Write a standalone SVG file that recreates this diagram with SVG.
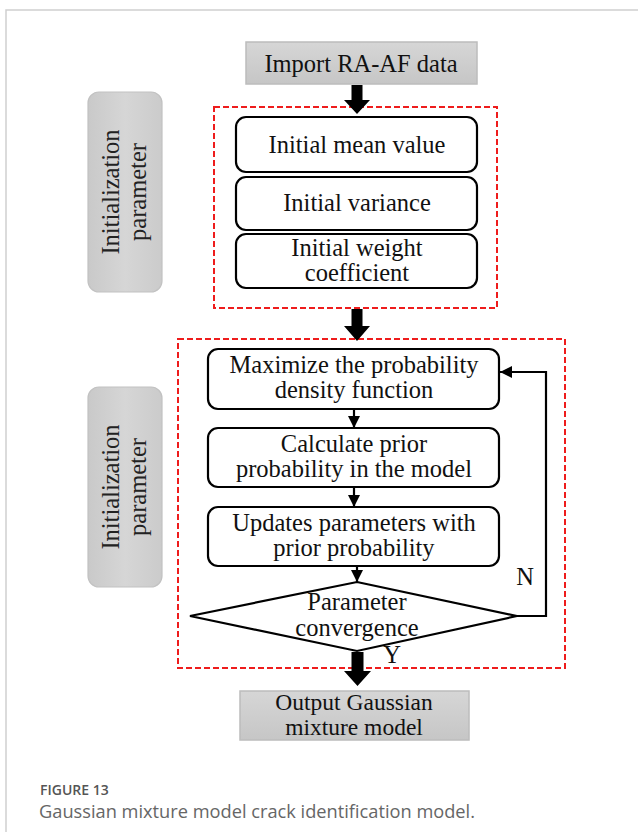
<svg xmlns="http://www.w3.org/2000/svg" width="638" height="832" viewBox="0 0 638 832">
<defs>
<linearGradient id="gbox" x1="0" y1="0" x2="0" y2="1">
<stop offset="0" stop-color="#d6d6d6"/>
<stop offset="1" stop-color="#c6c6c6"/>
</linearGradient>
<linearGradient id="glab" x1="0" y1="0" x2="1" y2="0">
<stop offset="0" stop-color="#c9c9c9"/>
<stop offset="0.5" stop-color="#d6d6d6"/>
<stop offset="1" stop-color="#cbcbcb"/>
</linearGradient>
<marker id="ah" markerUnits="userSpaceOnUse" markerWidth="12" markerHeight="12" refX="12" refY="6" orient="auto">
<path d="M0,0 L12,6 L0,12 z" fill="#000"/>
</marker>
</defs>
<style>
.t{font-family:"Liberation Serif","Times New Roman",serif;font-size:24.5px;fill:#111;text-anchor:middle}
.o{font-size:23.5px}
.lt{font-family:"Liberation Serif","Times New Roman",serif;font-size:24.5px;fill:#222;text-anchor:middle}
.box{fill:#fff;stroke:#000;stroke-width:2.2}
.gray{fill:url(#gbox);stroke:#bcbcbc;stroke-width:1.5}
.lab{fill:url(#glab);stroke:#c2c2c2;stroke-width:1.2}
.dash{fill:none;stroke:#ee1c1c;stroke-width:2;stroke-dasharray:6,3}
.ln{fill:none;stroke:#000;stroke-width:2.2}
.big{fill:#000}
.cap1{font-family:"Open Sans","Liberation Sans",sans-serif;font-size:14px;font-weight:600;fill:#555}
.cap2{font-family:"Open Sans","Liberation Sans",sans-serif;font-size:18px;font-weight:400;fill:#666}
</style>
<rect width="638" height="832" fill="#fff"/>
<path d="M6,832 L6,10 L638,10" fill="none" stroke="#cfcfcf" stroke-width="1.5"/>

<g id="frame1"><rect class="dash" x="214" y="107" width="283" height="201"/></g>
<g id="frame2"><rect class="dash" x="178" y="339" width="387" height="329"/></g>

<g id="label1">
<rect class="lab" x="88" y="92" width="74" height="200" rx="11"/>
<text class="lt" transform="translate(119,192) rotate(-90)">Initialization</text>
<text class="lt" transform="translate(146,192) rotate(-90)">parameter</text>
</g>
<g id="label2">
<rect class="lab" x="88" y="387" width="74" height="200" rx="11"/>
<text class="lt" transform="translate(119,487) rotate(-90)">Initialization</text>
<text class="lt" transform="translate(146,487) rotate(-90)">parameter</text>
</g>

<g id="import">
<rect class="gray" x="246" y="42" width="231" height="42"/>
<text class="t" x="361" y="72">Import RA-AF data</text>
</g>
<g id="mean">
<rect class="box" x="236" y="117" width="241" height="55" rx="10"/>
<text class="t" x="357" y="153">Initial mean value</text>
</g>
<g id="variance">
<rect class="box" x="236" y="177" width="241" height="53" rx="10"/>
<text class="t" x="357" y="211">Initial variance</text>
</g>
<g id="weight">
<rect class="box" x="236" y="234" width="241" height="54" rx="10"/>
<text class="t" x="357" y="256">Initial weight</text>
<text class="t" x="357" y="281">coefficient</text>
</g>

<g id="maximize">
<rect class="box" x="208" y="349" width="291" height="60" rx="10"/>
<text class="t" x="354" y="373">Maximize the probability</text>
<text class="t" x="354" y="398">density function</text>
</g>
<g id="calculate">
<rect class="box" x="208" y="428" width="291" height="59" rx="10"/>
<text class="t" x="354" y="452">Calculate prior</text>
<text class="t" x="354" y="477">probability in the model</text>
</g>
<g id="updates">
<rect class="box" x="208" y="507" width="291" height="59" rx="10"/>
<text class="t" x="354" y="531">Updates parameters with</text>
<text class="t" x="354" y="556">prior probability</text>
</g>
<g id="convergence">
<polygon class="ln" points="357,582 517,616 357,651 190,616"/>
<text class="t" x="357" y="610">Parameter</text>
<text class="t" x="357" y="636">convergence</text>
</g>
<g id="output">
<rect class="gray" x="240" y="691" width="229" height="49"/>
<text class="t o" x="354" y="710">Output Gaussian</text>
<text class="t o" x="354" y="735">mixture model</text>
</g>

<g id="connectors">
<polygon class="big" points="351.5,85 362.5,85 362.5,100 370,100 357,114 344,100 351.5,100"/>
<polygon class="big" points="351.5,309 362.5,309 362.5,326 370,326 357,341 344,326 351.5,326"/>
<polygon class="big" points="351.5,652 363.5,652 363.5,671 371,671 357.5,686 344,671 351.5,671"/>
<line class="ln" x1="354" y1="409" x2="354" y2="428" marker-end="url(#ah)"/>
<line class="ln" x1="354" y1="487" x2="354" y2="507" marker-end="url(#ah)"/>
<line class="ln" x1="357" y1="566" x2="357" y2="582" marker-end="url(#ah)"/>
<polyline class="ln" points="517,616 546,616 546,372 500,372" marker-end="url(#ah)"/>
<text class="t" x="525" y="585">N</text>
<text class="t" x="392" y="663">Y</text>
</g>

<text class="cap1" x="40" y="795">FIGURE 13</text>
<text class="cap2" x="39" y="818" textLength="436" lengthAdjust="spacingAndGlyphs">Gaussian mixture model crack identification model.</text>
</svg>
